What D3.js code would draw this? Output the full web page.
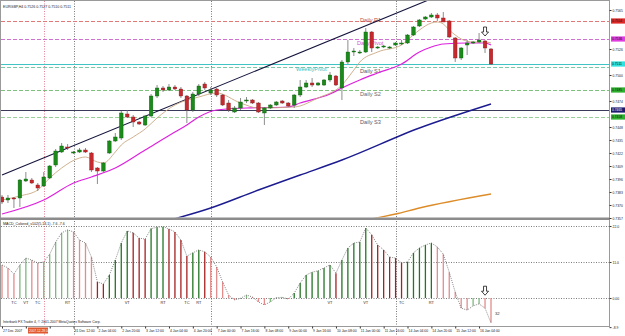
<!DOCTYPE html>
<html>
<head>
<meta charset="utf-8">
<script src="https://cdn.jsdelivr.net/npm/d3@7"></script>
<style>
  body { margin: 0; background: #fff; }
  svg { display: block; font-family: "Liberation Sans", Arial, sans-serif; }
</style>
</head>
<body>
<script>
'use strict'

const width = 625
const height = 336

// EURGBP H4 candles, one entry per bar (83 bars)
const open = [
  0.7378, 0.7375, 0.7377, 0.7377, 0.7394, 0.7395, 0.7390, 0.7389, 0.7397, 0.7410,
  0.7423, 0.7428, 0.7422, 0.7423, 0.7425, 0.7422, 0.7407, 0.7404, 0.7422, 0.7434,
  0.7437, 0.7461, 0.7458, 0.7453, 0.7450, 0.7459, 0.7479, 0.7487, 0.7485, 0.7488,
  0.7486, 0.7479, 0.7465, 0.7481, 0.7491, 0.7482, 0.7486, 0.7480, 0.7472, 0.7463,
  0.7467, 0.7474, 0.7475, 0.7472, 0.7462, 0.7467, 0.7470, 0.7474, 0.7472, 0.7470,
  0.7480, 0.7488, 0.7492, 0.7490, 0.7490, 0.7495, 0.7499, 0.7487, 0.7513, 0.7523,
  0.7522, 0.7523, 0.7543, 0.7527, 0.7528, 0.7527, 0.7530, 0.7531, 0.7532, 0.7540,
  0.7549, 0.7556, 0.7558, 0.7560, 0.7557, 0.7554, 0.7537, 0.7517, 0.7530, 0.7532,
  0.7533, 0.7534, 0.7526
]
const high = [
  0.7380, 0.7380, 0.7378, 0.7396, 0.7403, 0.7397, 0.7392, 0.7403, 0.7410, 0.7426,
  0.7432, 0.7431, 0.7424, 0.7427, 0.7427, 0.7423, 0.7408, 0.7413, 0.7435, 0.7442,
  0.7464, 0.7465, 0.7460, 0.7454, 0.7460, 0.7481, 0.7490, 0.7489, 0.7491, 0.7490,
  0.7488, 0.7480, 0.7483, 0.7491, 0.7493, 0.7488, 0.7487, 0.7481, 0.7475, 0.7469,
  0.7477, 0.7478, 0.7476, 0.7473, 0.7468, 0.7471, 0.7474, 0.7475, 0.7473, 0.7481,
  0.7495, 0.7495, 0.7497, 0.7493, 0.7496, 0.7503, 0.7500, 0.7515, 0.7535, 0.7527,
  0.7525, 0.7547, 0.7544, 0.7529, 0.7530, 0.7529, 0.7533, 0.7535, 0.7541, 0.7549,
  0.7556, 0.7559, 0.7562, 0.7562, 0.7563, 0.7555, 0.7538, 0.7528, 0.7535, 0.7534,
  0.7542, 0.7535, 0.7527
]
const low = [
  0.7371, 0.7372, 0.7367, 0.7368, 0.7393, 0.7391, 0.7384, 0.7388, 0.7396, 0.7408,
  0.7422, 0.7425, 0.7421, 0.7422, 0.7422, 0.7403, 0.7391, 0.7403, 0.7421, 0.7433,
  0.7435, 0.7457, 0.7448, 0.7450, 0.7449, 0.7458, 0.7477, 0.7483, 0.7484, 0.7485,
  0.7477, 0.7452, 0.7463, 0.7479, 0.7485, 0.7480, 0.7478, 0.7469, 0.7463, 0.7462,
  0.7465, 0.7472, 0.7471, 0.7462, 0.7450, 0.7466, 0.7469, 0.7471, 0.7468, 0.7467,
  0.7478, 0.7487, 0.7488, 0.7489, 0.7489, 0.7493, 0.7489, 0.7475, 0.7511, 0.7519,
  0.7521, 0.7522, 0.7523, 0.7526, 0.7527, 0.7526, 0.7529, 0.7530, 0.7531, 0.7539,
  0.7548, 0.7555, 0.7557, 0.7554, 0.7553, 0.7537, 0.7513, 0.7515, 0.7520, 0.7531,
  0.7532, 0.7522, 0.7510
]
const close = [
  0.7373, 0.7377, 0.7376, 0.7395, 0.7396, 0.7392, 0.7387, 0.7398, 0.7409, 0.7424,
  0.7429, 0.7427, 0.7423, 0.7425, 0.7423, 0.7405, 0.7404, 0.7412, 0.7434, 0.7438,
  0.7462, 0.7458, 0.7453, 0.7451, 0.7459, 0.7479, 0.7487, 0.7485, 0.7488, 0.7486,
  0.7479, 0.7465, 0.7481, 0.7489, 0.7487, 0.7485, 0.7480, 0.7470, 0.7465, 0.7467,
  0.7473, 0.7475, 0.7472, 0.7463, 0.7467, 0.7470, 0.7473, 0.7472, 0.7469, 0.7480,
  0.7488, 0.7492, 0.7490, 0.7492, 0.7495, 0.7500, 0.7490, 0.7513, 0.7523, 0.7524,
  0.7523, 0.7543, 0.7527, 0.7528, 0.7529, 0.7528, 0.7532, 0.7532, 0.7540, 0.7548,
  0.7555, 0.7558, 0.7560, 0.7557, 0.7553, 0.7538, 0.7517, 0.7527, 0.7532, 0.7533,
  0.7535, 0.7527, 0.7511
]

// moving averages, read at a few bars
const tanBars = [0, 3, 6, 8, 10, 13, 14, 16, 17, 19, 20, 22, 24, 26, 29, 33, 36, 40, 43, 49,
  53, 57, 59, 60, 63, 67, 68, 70, 72, 73, 74, 75, 76, 77, 79, 81, 82]
const tanVals = [0.7375, 0.7379, 0.7385, 0.7397, 0.7407, 0.7417, 0.7418, 0.7413, 0.7412, 0.7423,
  0.7430, 0.7438, 0.7446, 0.7457, 0.7470, 0.7478, 0.7482, 0.7472, 0.7467, 0.7468,
  0.7477, 0.7490, 0.7505, 0.7513, 0.7523, 0.7530, 0.7535, 0.7545, 0.7552, 0.7553,
  0.7551, 0.7545, 0.7540, 0.7536, 0.7533, 0.7533, 0.7532]
const magentaBars = [0, 7, 12, 15, 19, 24, 29, 31, 33, 36, 41, 48, 50, 55, 57, 60, 63, 67, 70, 72, 74, 78, 81, 82]
const magentaVals = [0.7361, 0.7375, 0.7392, 0.7398, 0.7407, 0.7425, 0.7443, 0.7450, 0.7458, 0.7465,
  0.7467, 0.7468, 0.7472, 0.7481, 0.7487, 0.7495, 0.7502, 0.7511, 0.7523, 0.7528,
  0.7531, 0.7532, 0.7532, 0.7530]
const navyBars = [27, 35, 43, 50, 57, 70, 82]
const navyVals = [0.7353, 0.7367, 0.7385, 0.7400, 0.7415, 0.7447, 0.7471]
const orangeBars = [58, 66, 70, 82]
const orangeVals = [0.7352, 0.7361, 0.7367, 0.7381]

// channel trendline anchors
const trendBars = [0, 76]
const trendVals = [0.7400, 0.7586]

// pivot levels
const levelNames = ['Daily R1', 'Daily Pivot', 'WeeklyPivot', 'Daily S1', 'Daily S2', 'Daily S3']
const levelVals = [0.7554, 0.7536, 0.7511, 0.7508, 0.7485, 0.7458]
const hLineVal = 0.7465

// MACD_Colored histogram (5,13,1)
const macd = [
  10.1, 9.2, 7.3, 10.1, 12.2, 11.6, 10.7, 11.0, 13.4, 17.1,
  19.9, 20.8, 20.2, 17.7, 16.8, 12.5, 4.9, 4.3, 7.0, 11.6,
  16.8, 20.5, 19.9, 18.3, 18.0, 21.2, 21.6, 21.8, 21.1, 20.2,
  17.7, 12.8, 13.8, 14.7, 14.1, 12.5, 9.5, 4.9, 0.9, -0.6,
  -0.1, 0.9, 0.3, -1.2, -2.1, -1.2, 0.1, 0.2, -0.3, 1.5,
  4.6, 7.0, 7.9, 8.3, 9.2, 10.1, 7.6, 11.6, 15.3, 16.8,
  17.1, 21.4, 19.3, 16.2, 14.7, 12.5, 12.2, 10.7, 11.0, 13.8,
  15.3, 16.2, 16.8, 15.6, 13.4, 7.9, 1.8, -3.1, -3.7, -2.4,
  -1.8, -3.1, -7.6
]
const markBars = [2, 4, 6, 11, 21, 27, 31, 33, 55, 61, 67, 72]
const markText = ['TC', 'VT', 'TC', 'RT', 'VT', 'RT', 'TC', 'RT', 'VT', 'VT', 'TC', 'RT']

// axes
const priceTicks = [0.7565, 0.7552, 0.7539, 0.7526, 0.7513, 0.7500, 0.7487, 0.7474, 0.7461,
  0.7448, 0.7435, 0.7422, 0.7409, 0.7396, 0.7383, 0.7370, 0.7357]
const macdTicks = [22, 11, 0]
const dateBars = [0, 4, 8, 12, 16, 20, 24, 28, 32, 36, 40, 44, 48, 52, 56, 60, 64, 68, 72, 76, 80]
const dateLabels = ['27 Dec 2007', '28 Dec 04:00', '28 Dec 20:00', '31 Dec 12:00', '2 Jan 04:00',
  '2 Jan 20:00', '3 Jan 12:00', '4 Jan 04:00', '4 Jan 20:00', '7 Jan 00:00', '7 Jan 16:00',
  '8 Jan 08:00', '9 Jan 00:00', '9 Jan 16:00', '10 Jan 08:00', '11 Jan 00:00', '11 Jan 16:00',
  '14 Jan 04:00', '14 Jan 20:00', '15 Jan 12:00', '16 Jan 04:00']
const separatorBars = [12, 35, 66]
const markerBar = 7
const markerLabel = '2007.12.28 04:00'
const arrowBar = 81

// ---- layout ----
const plotRight = 609
const mainTop = 1
const mainBottom = 217.5
const macdTop = 220
const macdBottom = 326

const x = d3.scaleLinear().domain([0, 82]).range([2, 491])
const y = d3.scaleLinear().domain([0.7357, 0.7575]).range([218, 0])
const ym = d3.scaleLinear().domain([0, 22]).range([298, 226])

const svg = d3.select('body').append('svg')
  .attr('width', width)
  .attr('height', height)

svg.append('rect').attr('width', width).attr('height', height).attr('fill', '#fff')

const defs = svg.append('defs')
defs.append('clipPath').attr('id', 'mainClip').append('rect')
  .attr('x', 1).attr('y', mainTop).attr('width', plotRight - 1).attr('height', mainBottom - mainTop)
defs.append('clipPath').attr('id', 'macdClip').append('rect')
  .attr('x', 1).attr('y', macdTop).attr('width', plotRight - 1).attr('height', macdBottom - macdTop)

// period separators
const seps = svg.append('g')
seps.selectAll('line.sep')
  .data(separatorBars)
  .enter().append('line')
  .attr('class', 'sep')
  .attr('x1', d => Math.round(x(d)) + 0.5).attr('x2', d => Math.round(x(d)) + 0.5)
  .attr('y1', 1).attr('y2', 336)
  .attr('stroke', '#555').attr('stroke-width', 0.8).attr('stroke-dasharray', '1,1.5')
seps.append('line')
  .attr('x1', Math.round(x(markerBar)) + 0.5).attr('x2', Math.round(x(markerBar)) + 0.5)
  .attr('y1', 1).attr('y2', 336)
  .attr('stroke', '#e0607a').attr('stroke-width', 0.8).attr('stroke-dasharray', '1,1.5')

// ---- main panel ----
const main = svg.append('g').attr('clip-path', 'url(#mainClip)')

const levelStyle = [
  { color: '#e07878', dash: '4,2', text: '#c0504a', lx: 360, dy: 1 },
  { color: '#d070d0', dash: '4,2', text: '#d050d0', lx: 357, dy: 6 },
  { color: '#40c4c4', dash: null, text: '#3cc4c4', lx: 296, dy: 7 },
  { color: '#7cc8a8', dash: '4,2', text: '#505a68', lx: 360, dy: 6 },
  { color: '#7cc07c', dash: '4,2', text: '#606a74', lx: 360, dy: 6 },
  { color: '#98d098', dash: '4,2', text: '#505a70', lx: 360, dy: 7 }
]

main.selectAll('line.level')
  .data(levelVals)
  .enter().append('line')
  .attr('class', 'level')
  .attr('x1', 1).attr('x2', plotRight)
  .attr('y1', d => Math.round(y(d)) + 0.5).attr('y2', d => Math.round(y(d)) + 0.5)
  .attr('stroke', (d, i) => levelStyle[i].color)
  .attr('stroke-width', 1)
  .attr('stroke-dasharray', (d, i) => levelStyle[i].dash)

main.append('line')
  .attr('x1', 1).attr('x2', plotRight)
  .attr('y1', Math.round(y(hLineVal)) + 0.5).attr('y2', Math.round(y(hLineVal)) + 0.5)
  .attr('stroke', '#3a3a5a').attr('stroke-width', 1)

main.selectAll('text.level')
  .data(levelNames)
  .enter().append('text')
  .attr('class', 'level')
  .attr('x', (d, i) => levelStyle[i].lx)
  .attr('y', (d, i) => y(levelVals[i]) + levelStyle[i].dy)
  .attr('font-size', 5.6)
  .attr('fill', (d, i) => levelStyle[i].text)
  .text(d => d)

function maLine (bars, vals) {
  return d3.line()
    .x((d, i) => x(bars[i]))
    .y(d => y(d))
    .curve(d3.curveMonotoneX)(vals)
}

main.append('path').attr('d', maLine(trendBars, trendVals))
  .attr('fill', 'none').attr('stroke', '#14143c').attr('stroke-width', 1.1)
main.append('path').attr('d', maLine(orangeBars, orangeVals))
  .attr('fill', 'none').attr('stroke', '#dc8c28').attr('stroke-width', 1.3)
main.append('path').attr('d', maLine(navyBars, navyVals))
  .attr('fill', 'none').attr('stroke', '#1c1c90').attr('stroke-width', 1.4)
main.append('path').attr('d', maLine(magentaBars, magentaVals))
  .attr('fill', 'none').attr('stroke', '#dd22dd').attr('stroke-width', 1.2)
main.append('path').attr('d', maLine(tanBars, tanVals))
  .attr('fill', 'none').attr('stroke', '#caa882').attr('stroke-width', 0.9)

// candles
const bars = main.selectAll('g.bar')
  .data(d3.range(open.length))
  .enter().append('g')
  .attr('class', 'bar')

bars.append('line')
  .attr('x1', i => x(i)).attr('x2', i => x(i))
  .attr('y1', i => y(high[i])).attr('y2', i => y(low[i]))
  .attr('stroke', '#707070').attr('stroke-width', 0.8)

bars.append('rect')
  .attr('x', i => x(i) - 1.8)
  .attr('width', 3.6)
  .attr('y', i => Math.min(y(open[i]), y(close[i])))
  .attr('height', i => Math.max(1, Math.abs(y(open[i]) - y(close[i]))))
  .attr('fill', i => close[i] >= open[i] ? '#1b8a1b' : '#c42a2e')
  .attr('stroke', i => close[i] >= open[i] ? '#0e5e0e' : '#8e1a1e')
  .attr('stroke-width', 0.4)

function downArrow (g, cx, top) {
  g.append('path')
    .attr('d', `M${cx - 1.5},${top} L${cx + 1.5},${top} L${cx + 1.5},${top + 5} L${cx + 3.5},${top + 5} ` +
      `L${cx},${top + 9} L${cx - 3.5},${top + 5} L${cx - 1.5},${top + 5} Z`)
    .attr('fill', '#fff').attr('stroke', '#111').attr('stroke-width', 0.8)
}
downArrow(main, x(arrowBar), y(0.7548))

// title
svg.append('text').attr('x', 3).attr('y', 8).attr('font-size', 3.6).attr('fill', '#222')
  .text('EURGBP,H4  0.7526 0.7527 0.7510 0.7511')

// ---- MACD panel ----
const sub = svg.append('g').attr('clip-path', 'url(#macdClip)')

sub.selectAll('line.lvl')
  .data(macdTicks)
  .enter().append('line')
  .attr('class', 'lvl')
  .attr('x1', 1).attr('x2', plotRight)
  .attr('y1', d => Math.round(ym(d)) + 0.5).attr('y2', d => Math.round(ym(d)) + 0.5)
  .attr('stroke', '#444').attr('stroke-width', 0.7).attr('stroke-dasharray', '1,1.5')

const darkRanges = [[16, 34], [49, 72]]
function histColor (i) {
  const up = i > 0 && macd[i] > macd[i - 1]
  const dark = darkRanges.some(r => i >= r[0] && i <= r[1])
  if (up) return dark ? '#237523' : '#7db97d'
  return dark ? '#a52020' : '#e48c8c'
}

sub.selectAll('line.hist')
  .data(macd)
  .enter().append('line')
  .attr('class', 'hist')
  .attr('x1', (d, i) => x(i)).attr('x2', (d, i) => x(i))
  .attr('y1', ym(0)).attr('y2', d => ym(d))
  .attr('stroke', (d, i) => histColor(i))
  .attr('stroke-width', 1.3)

sub.append('path')
  .attr('d', d3.line().x((d, i) => x(i)).y(d => ym(d))(macd))
  .attr('fill', 'none').attr('stroke', '#666').attr('stroke-width', 0.8)
  .attr('stroke-dasharray', '1,1.2')

sub.selectAll('text.mark')
  .data(markBars)
  .enter().append('text')
  .attr('class', 'mark')
  .attr('x', d => x(d)).attr('y', ym(0) + 6)
  .attr('text-anchor', 'middle')
  .attr('font-size', 4)
  .attr('fill', '#333')
  .text((d, i) => markText[i])

sub.append('text').attr('x', x(82) + 4).attr('y', ym(-5.2)).attr('font-size', 4.2).attr('fill', '#333')
  .text('32')
downArrow(sub, x(arrowBar), ym(3.6))

svg.append('text').attr('x', 3).attr('y', 225).attr('font-size', 3.6).attr('fill', '#222')
  .text('MACD_Colored_v102(5,13,1) -7.6 -7.6')
svg.append('text').attr('x', 3).attr('y', 323).attr('font-size', 3.4).attr('fill', '#222')
  .text('Interbank FX Trader 4, \u00a9 2001-2007 MetaQuotes Software Corp.')

// ---- frame ----
svg.append('rect').attr('x', 0.5).attr('y', 0.5).attr('width', plotRight).attr('height', macdBottom)
  .attr('fill', 'none').attr('stroke', '#9a9a9a').attr('stroke-width', 1)
svg.append('rect').attr('x', 0).attr('y', mainBottom).attr('width', plotRight + 1).attr('height', 2.5)
  .attr('fill', '#8c8c8c')

// ---- axes ----
// coloured price tags on the right axis hide the tick labels they cover
const tagVals = [0.7554, 0.7536, 0.7511, 0.7485, 0.7465, 0.7458]
const tagColors = ['#e02828', '#e03ce0', '#2ee0e0', '#2eb02e', '#1a1a6e', '#2eb02e']
const freeTicks = priceTicks.filter(t => tagVals.every(v => Math.abs(y(t) - y(v)) > 6))

const priceAxis = svg.append('g')
  .attr('transform', `translate(${plotRight + 0.5},0)`)
  .call(d3.axisRight(y).tickValues(freeTicks).tickSize(2).tickFormat(d3.format('.4f')))
priceAxis.select('.domain').remove()
priceAxis.selectAll('line').attr('stroke', '#333')
priceAxis.selectAll('text').attr('x', 3).attr('font-size', 3.4).attr('fill', '#222')

const macdAxis = svg.append('g')
  .attr('transform', `translate(${plotRight + 0.5},0)`)
  .call(d3.axisRight(ym).tickValues(macdTicks.concat([-8.9])).tickSize(2)
    .tickFormat(d => d === 0 ? '0.00' : d.toFixed(1)))
macdAxis.select('.domain').remove()
macdAxis.selectAll('line').attr('stroke', '#333')
macdAxis.selectAll('text').attr('x', 3).attr('font-size', 3.4).attr('fill', '#222')

const tags = svg.selectAll('g.tag')
  .data(tagVals)
  .enter().append('g')
  .attr('class', 'tag')
  .attr('transform', d => `translate(${plotRight + 2},${y(d)})`)
tags.append('rect').attr('x', 0).attr('y', -2.6).attr('width', 14).attr('height', 5.2)
  .attr('fill', (d, i) => tagColors[i])
tags.append('text').attr('x', 1).attr('y', 1.2).attr('font-size', 3.3)
  .attr('fill', (d, i) => i === 4 ? '#fff' : '#111')
  .text(d => d3.format('.4f')(d))

// the vertical line's time tag takes the place of the tick label under it
const dateAxis = svg.append('g')
  .attr('transform', `translate(0,${macdBottom + 0.5})`)
  .call(d3.axisBottom(x).tickValues(dateBars).tickSize(2)
    .tickFormat((d, i) => Math.abs(x(d) - x(markerBar)) < 20 ? '' : dateLabels[i]))
dateAxis.select('.domain').remove()
dateAxis.selectAll('line').attr('stroke', '#333')
dateAxis.selectAll('text').attr('text-anchor', 'start').attr('x', 0.5).attr('y', 3.2)
  .attr('font-size', 3.4).attr('fill', '#222')

svg.append('rect').attr('x', 28).attr('y', 327.5).attr('width', 20).attr('height', 6)
  .attr('fill', '#e2582e')
svg.append('text').attr('x', 29).attr('y', 332).attr('font-size', 3.2).attr('fill', '#fff')
  .text(markerLabel)
</script>
</body>
</html>
